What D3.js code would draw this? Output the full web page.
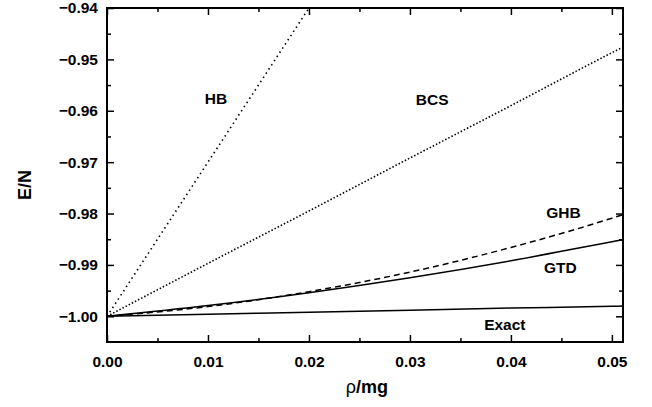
<!DOCTYPE html>
<html>
<head>
<meta charset="utf-8">
<script src="https://cdn.jsdelivr.net/npm/d3@7"></script>
<style>
  body { margin: 0; background: #fff; }
  text { font-family: "Liberation Sans", Arial, sans-serif; font-weight: bold; }
</style>
</head>
<body>
<div id="chart-area"></div>
<script>
// data
var rho = [0, 0.01, 0.02, 0.03, 0.04, 0.05, 0.0511];
var hbRho = [0, 0.01, 0.02, 0.0205];
var hbVals = [-1.0, -0.97, -0.94, -0.9385];
var bcsVals = [-1.0, -0.9897, -0.9795, -0.9692, -0.959, -0.9487, -0.9476];
var ghbVals = [-1.0, -0.9981, -0.9952, -0.9914, -0.9866, -0.9809, -0.9802];
var gtdVals = [-1.0, -0.9979, -0.9954, -0.9925, -0.9892, -0.9855, -0.9851];
var exactVals = [-1.0, -0.9996, -0.9992, -0.9988, -0.9984, -0.99805, -0.998];
var xTicks = [0, 0.01, 0.02, 0.03, 0.04, 0.05];
var yTicks = [-1.00, -0.99, -0.98, -0.97, -0.96, -0.95, -0.94];
var labels = [
  {name: "HB", x: 0.0108, y: -0.9576},
  {name: "BCS", x: 0.0322, y: -0.9578},
  {name: "GHB", x: 0.0452, y: -0.9799},
  {name: "GTD", x: 0.0449, y: -0.9906},
  {name: "Exact", x: 0.0394, y: -1.0017}
];

var W = 652, H = 407;
var margin = {left: 107, right: 29, top: 8, bottom: 65};
var chartWidth = W - margin.left - margin.right;
var chartHeight = H - margin.top - margin.bottom;

var svg = d3.select("#chart-area").append("svg").attr("width", W).attr("height", H);
var graph = svg.append("g").attr("transform", "translate(" + margin.left + "," + margin.top + ")");

var x = d3.scaleLinear().domain([0, 0.0511]).range([0, chartWidth]);
var y = d3.scaleLinear().domain([-1.005, -0.94]).range([chartHeight, 0]);

graph.append("clipPath").attr("id", "clip").append("rect").attr("width", chartWidth).attr("height", chartHeight);

var minorX = [0.005, 0.015, 0.025, 0.035, 0.045];
var minorY = [-0.995, -0.985, -0.975, -0.965, -0.955, -0.945];

// axes (ticks inward, mirrored on top/right)
var xAxis = d3.axisBottom(x).tickValues(xTicks).tickFormat(d3.format(".2f")).tickSizeInner(-7).tickSizeOuter(0).tickPadding(14);
var yAxis = d3.axisLeft(y).tickValues(yTicks).tickFormat(d3.format(".2f")).tickSizeInner(-7).tickSizeOuter(0).tickPadding(9);

graph.append("g").attr("transform", "translate(0," + chartHeight + ")").call(xAxis);
graph.append("g").call(yAxis);
graph.append("g").call(d3.axisTop(x).tickValues(xTicks).tickFormat("").tickSizeInner(-7).tickSizeOuter(0));
graph.append("g").attr("transform", "translate(" + chartWidth + ",0)")
  .call(d3.axisRight(y).tickValues(yTicks).tickFormat("").tickSizeInner(-7).tickSizeOuter(0));

graph.append("g").attr("transform", "translate(0," + chartHeight + ")").call(d3.axisBottom(x).tickValues(minorX).tickFormat("").tickSizeInner(-4).tickSizeOuter(0));
graph.append("g").call(d3.axisTop(x).tickValues(minorX).tickFormat("").tickSizeInner(-4).tickSizeOuter(0));
graph.append("g").call(d3.axisLeft(y).tickValues(minorY).tickFormat("").tickSizeInner(-4).tickSizeOuter(0));
graph.append("g").attr("transform", "translate(" + chartWidth + ",0)")
  .call(d3.axisRight(y).tickValues(minorY).tickFormat("").tickSizeInner(-4).tickSizeOuter(0));

graph.selectAll(".domain").remove();
graph.selectAll(".tick line").attr("stroke", "#000").attr("stroke-width", 1.5);
graph.selectAll(".tick text").attr("font-size", "15.5px").attr("fill", "#000");

graph.append("rect").attr("width", chartWidth).attr("height", chartHeight)
  .attr("fill", "none").attr("stroke", "#000").attr("stroke-width", 2);

var line = d3.line().curve(d3.curveMonotoneX)
  .x(function(d) { return x(d[0]); }).y(function(d) { return y(d[1]); });
var series = [
  {xs: hbRho, ys: hbVals, dash: "1.5,3.5", w: 1.6},
  {xs: rho, ys: bcsVals, dash: "1.5,2", w: 1.6},
  {xs: rho, ys: ghbVals, dash: "6,4", w: 1.5},
  {xs: rho, ys: gtdVals, dash: null, w: 1.5},
  {xs: rho, ys: exactVals, dash: null, w: 1.5}
];
var lines = graph.append("g").attr("clip-path", "url(#clip)");
series.forEach(function(s) {
  lines.append("path")
    .datum(s.xs.map(function(v, i) { return [v, s.ys[i]]; }))
    .attr("d", line).attr("fill", "none").attr("stroke", "#000")
    .attr("stroke-width", s.w).attr("stroke-dasharray", s.dash);
});

graph.selectAll(".series-label").data(labels).enter().append("text")
  .attr("class", "series-label")
  .attr("x", function(d) { return x(d.x); })
  .attr("y", function(d) { return y(d.y); })
  .attr("text-anchor", "middle").attr("dy", "0.35em")
  .attr("font-size", "15.5px").text(function(d) { return d.name; });

var xLabel = svg.append("text").attr("x", 367).attr("y", 393).attr("text-anchor", "middle").attr("font-size", "18px");
xLabel.append("tspan").attr("font-weight", "normal").text("ρ");
xLabel.append("tspan").text("/mg");
svg.append("text").attr("transform", "translate(31,185) rotate(-90)")
  .attr("text-anchor", "middle").attr("font-size", "18px").text("E/N");
</script>
</body>
</html>
